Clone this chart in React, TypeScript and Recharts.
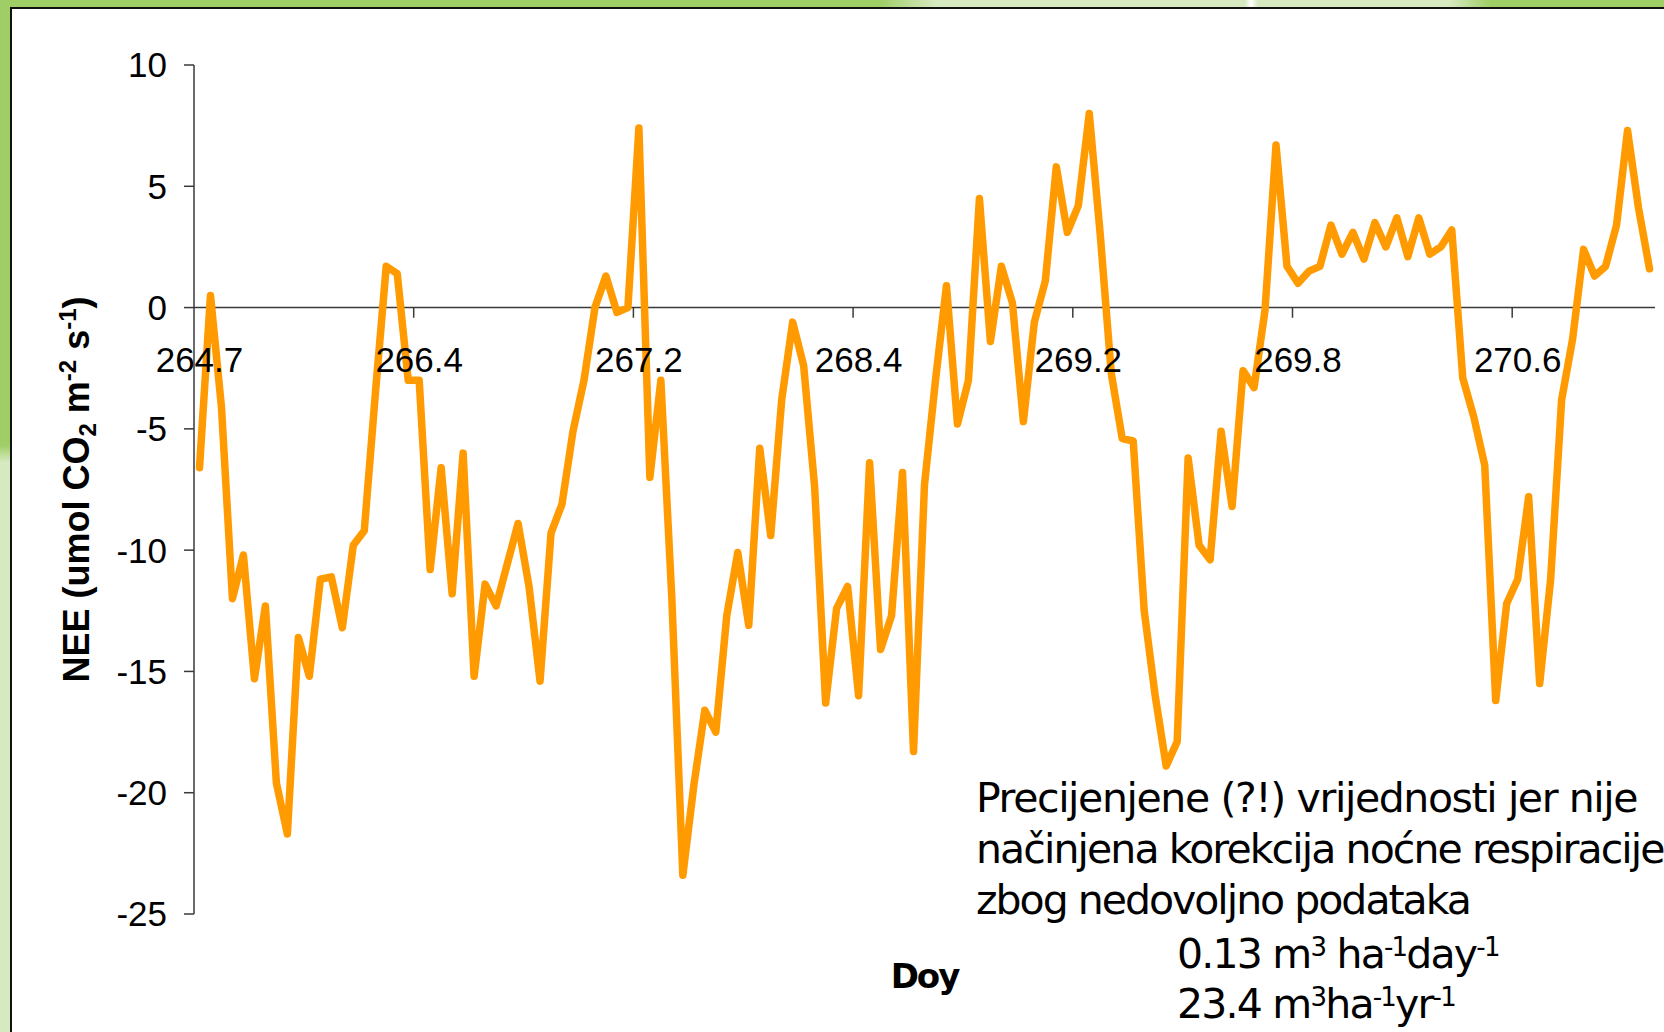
import { LineChart, Line, XAxis, YAxis, ReferenceLine, ReferenceDot } from 'recharts';

// Doy labels shown every 20th half-hour record (category axis)
const DOY_LABELS = ['264.7', '266.4', '267.2', '268.4', '269.2', '269.8', '270.6'];
const LABEL_EVERY = 20;

// NEE (umol CO2 m-2 s-1), one value per record
const NEE = [
    -6.6, 0.5, -4.1, -12.0, -10.2, -15.3, -12.3, -19.6, -21.7, -13.6,
    -15.2, -11.2, -11.1, -13.2, -9.8, -9.2, -3.6, 1.7, 1.4, -3.0,
    -3.0, -10.8, -6.6, -11.8, -6.0, -15.2, -11.4, -12.3, -10.6, -8.9,
    -11.5, -15.4, -9.3, -8.1, -5.1, -3.0, 0.0, 1.3, -0.2, 0.0,
    7.4, -7.0, -3.0, -12.0, -23.4, -19.7, -16.6, -17.5, -12.7, -10.1,
    -13.1, -5.8, -9.4, -3.8, -0.6, -2.4, -7.4, -16.3, -12.4, -11.5,
    -16.0, -6.4, -14.1, -12.7, -6.8, -18.3, -7.3, -3.0, 0.9, -4.8,
    -3.0, 4.5, -1.4, 1.7, 0.2, -4.7, -0.6, 1.1, 5.8, 3.1,
    4.2, 8.0, 3.0, -2.7, -5.4, -5.5, -12.5, -16.0, -18.9, -17.9,
    -6.2, -9.8, -10.4, -5.1, -8.2, -2.6, -3.3, -0.1, 6.7, 1.7,
    1.0, 1.5, 1.7, 3.4, 2.2, 3.1, 2.0, 3.5, 2.5, 3.7,
    2.1, 3.7, 2.2, 2.5, 3.2, -2.9, -4.5, -6.5, -16.2, -12.2,
    -11.2, -7.8, -15.5, -11.2, -3.8, -1.3, 2.4, 1.3, 1.7, 3.4,
    7.3, 4.1, 1.6,
];

const Y_TICKS = [-25, -20, -15, -10, -5, 0, 5, 10];

const NOTE_LINES = [
    'Precijenjene (?!) vrijednosti jer nije',
    'načinjena korekcija noćne respiracije',
    'zbog nedovoljno podataka',
];
const NOTE_SPACING = ['-1.4px', '-1.9px', '-2px'];

const GREEN = '#9fce66';
const PALE = '#d6e9c0';
const AXIS = '#3a3a3a';
const ARIAL = "'Liberation Sans', Arial, sans-serif";
const TAHOMA = "'DejaVu Sans', Verdana, sans-serif";

const data = NEE.map((nee, i) => ({ i, nee }));
const tickBounds = DOY_LABELS.slice(1).map((_, k) => (k + 1) * LABEL_EVERY - 0.5);
const TICK_DEPTH = 0.42; // ~10px below the zero line

// eslint-disable-next-line @typescript-eslint/no-explicit-any
const YTitle = (props: any) => {
    const vb = props.viewBox ?? { x: 0, y: 65, width: 194, height: 849 };
    const x = vb.x + 89;
    const y = vb.y + vb.height / 2;
    return (
        <text
            x={x}
            y={y}
            transform={`rotate(-90, ${x}, ${y})`}
            textAnchor="middle"
            fontFamily={ARIAL}
            fontWeight="bold"
            fontSize={36}
            fill="#000"
        >
            NEE (umol CO<tspan fontSize={24} dy={7}>2</tspan>
            <tspan dy={-7}> m</tspan>
            <tspan fontSize={24} dy={-13}>-2</tspan>
            <tspan dy={13}> s</tspan>
            <tspan fontSize={24} dy={-13}>-1</tspan>
            <tspan dy={13}>)</tspan>
        </text>
    );
};

// eslint-disable-next-line @typescript-eslint/no-explicit-any
const XTitle = (props: any) => {
    const vb = props.viewBox ?? { x: 194, y: 914, width: 1461, height: 118 };
    return (
        <text
            x={vb.x + vb.width / 2}
            y={vb.y + 74}
            textAnchor="middle"
            fontFamily={TAHOMA}
            fontWeight="bold"
            fontSize={34}
            fill="#000"
            style={{ letterSpacing: '-2px' }}
        >
            Doy
        </text>
    );
};

const doyLabel = (text: string) => {
    // eslint-disable-next-line @typescript-eslint/no-explicit-any
    const DoyTick = (props: any) => {
        const vb = props.viewBox ?? { x: 0, y: 0, width: 0, height: 0 };
        return (
            <text
                x={vb.x + vb.width / 2}
                y={vb.y + vb.height / 2 + 64}
                textAnchor="middle"
                fontFamily={ARIAL}
                fontSize={35}
                fill="#000"
            >
                {text}
            </text>
        );
    };
    return DoyTick;
};

function Frame() {
    return (
        <>
            <div
                style={{
                    position: 'absolute', left: 0, top: 0, width: 1664, height: 7,
                    background: `linear-gradient(90deg, ${GREEN} 0px, ${GREEN} 880px, ${PALE} 935px, ${PALE} 1245px, #ffffff 1251px, ${PALE} 1258px, ${PALE} 1450px, ${GREEN} 1490px, ${GREEN} 1664px)`,
                }}
            />
            <div
                style={{
                    position: 'absolute', left: 0, top: 0, width: 10, height: 1032,
                    background: `linear-gradient(180deg, ${GREEN} 0px, ${GREEN} 445px, ${PALE} 462px, ${PALE} 1032px)`,
                }}
            />
            <div
                style={{
                    position: 'absolute', left: 10, top: 7, width: 1654, height: 1025,
                    boxSizing: 'border-box', borderTop: '2px solid #111', borderLeft: '2px solid #111',
                    background: '#fff',
                }}
            />
        </>
    );
}

function Note() {
    const sup = { fontSize: 26 };
    return (
        <svg
            width={1664}
            height={1032}
            style={{ position: 'absolute', left: 0, top: 0, pointerEvents: 'none' }}
        >
            <g fontFamily={TAHOMA} fontSize={41} fill="#000">
                {NOTE_LINES.map((line, k) => (
                    <text
                        key={line}
                        x={976}
                        y={812 + k * 51}
                        style={{ letterSpacing: NOTE_SPACING[k] }}
                    >
                        {line}
                    </text>
                ))}
                <text x={1177} y={968} style={{ letterSpacing: '-1.8px' }}>
                    0.13 m<tspan {...sup} dy={-12}>3</tspan>
                    <tspan dy={12}> ha</tspan>
                    <tspan {...sup} dy={-12}>-1</tspan>
                    <tspan dy={12}>day</tspan>
                    <tspan {...sup} dy={-12}>-1</tspan>
                </text>
                <text x={1177} y={1018} style={{ letterSpacing: '-1.8px' }}>
                    23.4 m<tspan {...sup} dy={-12}>3</tspan>
                    <tspan dy={12}>ha</tspan>
                    <tspan {...sup} dy={-12}>-1</tspan>
                    <tspan dy={12}>yr</tspan>
                    <tspan {...sup} dy={-12}>-1</tspan>
                </text>
            </g>
        </svg>
    );
}

export default function App() {
    return (
        <div
            style={{
                position: 'absolute', left: 0, top: 0, width: 1664, height: 1032,
                overflow: 'hidden', background: '#fff',
            }}
        >
            <Frame />
            <div style={{ position: 'absolute', left: 0, top: 0 }}>
                <LineChart
                    width={1664}
                    height={1032}
                    data={data}
                    margin={{ top: 65, right: 9, bottom: 0, left: 0 }}
                >
                    <XAxis
                        dataKey="i"
                        type="number"
                        domain={[-0.5, NEE.length - 0.5]}
                        allowDataOverflow
                        height={118}
                        axisLine={false}
                        tickLine={false}
                        tick={false}
                        label={{ content: XTitle }}
                    />
                    <YAxis
                        type="number"
                        domain={[-25, 10]}
                        allowDataOverflow
                        ticks={Y_TICKS}
                        interval={0}
                        width={194}
                        tickSize={10}
                        tickMargin={17}
                        axisLine={{ stroke: AXIS, strokeWidth: 1.5 }}
                        tickLine={{ stroke: AXIS, strokeWidth: 1.5 }}
                        tick={{ fill: '#000', fontSize: 35, fontFamily: ARIAL }}
                        label={{ content: YTitle }}
                    />
                    <ReferenceLine y={0} stroke={AXIS} strokeWidth={1.5} />
                    {tickBounds.map((b) => (
                        <ReferenceLine
                            key={`tick-${b}`}
                            segment={[{ x: b, y: 0 }, { x: b, y: -TICK_DEPTH }]}
                            stroke={AXIS}
                            strokeWidth={1.5}
                        />
                    ))}
                    {DOY_LABELS.map((lab, k) => (
                        <ReferenceDot
                            key={`lab-${lab}`}
                            x={k * LABEL_EVERY}
                            y={0}
                            r={0}
                            fill="none"
                            stroke="none"
                            label={{ content: doyLabel(lab) }}
                        />
                    ))}
                    <Line
                        type="linear"
                        dataKey="nee"
                        stroke="#ff9a00"
                        strokeWidth={7.5}
                        strokeLinejoin="round"
                        strokeLinecap="round"
                        dot={false}
                        activeDot={false}
                        isAnimationActive={false}
                    />
                </LineChart>
            </div>
            <Note />
        </div>
    );
}
